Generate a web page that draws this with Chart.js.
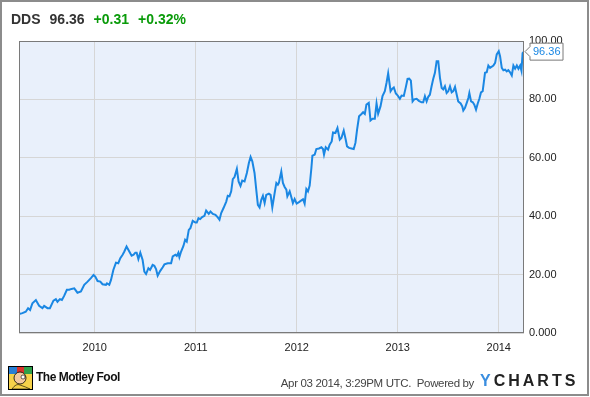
<!DOCTYPE html>
<html>
<head>
<meta charset="utf-8">
<script src="https://cdn.jsdelivr.net/npm/chart.js@4/dist/chart.umd.min.js"></script>
<style>
  html, body { margin: 0; padding: 0; background: #fff; }
  #wrap { position: relative; width: 590px; height: 397px; overflow: hidden; font-family: 'Liberation Sans', Arial, sans-serif; }
  #frame { position: absolute; left: 0; top: 0; width: 589px; height: 396px; box-sizing: border-box; border: 2px solid #8c8c8c; pointer-events: none; }
  canvas { position: absolute; left: 0; top: 0; }
  #title { position: absolute; left: 11px; top: 11px; font-size: 14px; font-weight: bold; color: #333; white-space: nowrap; }
  #title span { margin-right: 9px; }
  #title .up { color: #0a9b0a; }
  #fool { position: absolute; left: 8px; top: 366px; }
  #foolText { position: absolute; left: 36px; top: 370px; font-size: 12px; font-weight: bold; letter-spacing: -0.5px; color: #111; }
  #stamp { position: absolute; right: 116px; top: 377px; font-size: 11.5px; letter-spacing: -0.35px; color: #444; white-space: pre; }
  #ycharts { position: absolute; left: 480px; top: 372px; font-size: 16px; font-weight: bold; letter-spacing: 3px; color: #222; }
  #ycharts .y { color: #3a8ee0; }
</style>
</head>
<body>
<div id="wrap">
  <canvas id="chartCanvas" width="590" height="397"></canvas>
  <div id="title"><span>DDS</span><span>96.36</span><span class="up">+0.31</span><span class="up">+0.32%</span></div>
  <svg id="fool" width="25" height="24" viewBox="0 0 25 24">
    <rect x="0.5" y="0.5" width="24" height="23" fill="#f6d24a" stroke="#000"/>
    <rect x="1" y="1" width="8" height="7" fill="#2a7fd4"/>
    <rect x="9" y="1" width="7" height="6" fill="#d9322b"/>
    <rect x="16" y="1" width="8" height="7" fill="#2fa04a"/>
    <circle cx="12" cy="12" r="6" fill="#f3c9a0" stroke="#000" stroke-width="0.8"/>
    <circle cx="15" cy="11" r="2" fill="#fff" stroke="#000" stroke-width="0.6"/>
    <path d="M4 23 Q8 17 12 19 Q18 21 22 23 Z" fill="#f6d24a" stroke="#000" stroke-width="0.6"/>
  </svg>
  <div id="foolText">The Motley Fool</div>
  <div id="stamp">Apr 03 2014, 3:29PM UTC.  Powered by</div>
  <div id="ycharts"><span class="y">Y</span>CHARTS</div>
  <div id="frame"></div>
</div>
<script>
// DDS daily close, dates as decimal years
const dates = [
  2009.251, 2009.284, 2009.317, 2009.340, 2009.360, 2009.383, 2009.417, 2009.449, 2009.482, 2009.499,
  2009.532, 2009.556, 2009.591, 2009.615, 2009.631, 2009.655, 2009.675, 2009.697, 2009.724, 2009.747,
  2009.770, 2009.797, 2009.829, 2009.863, 2009.896, 2009.929, 2009.962, 2009.988, 2010.005, 2010.028,
  2010.055, 2010.077, 2010.111, 2010.121, 2010.144, 2010.161, 2010.184, 2010.210, 2010.233, 2010.253,
  2010.276, 2010.293, 2010.315, 2010.342, 2010.365, 2010.385, 2010.402, 2010.415, 2010.432, 2010.451,
  2010.474, 2010.491, 2010.508, 2010.531, 2010.548, 2010.573, 2010.590, 2010.607, 2010.623, 2010.647,
  2010.673, 2010.690, 2010.722, 2010.756, 2010.772, 2010.799, 2010.812, 2010.828, 2010.838, 2010.855,
  2010.878, 2010.895, 2010.911, 2010.931, 2010.947, 2010.970, 2010.997, 2011.010, 2011.027, 2011.044,
  2011.063, 2011.086, 2011.103, 2011.129, 2011.146, 2011.169, 2011.195, 2011.218, 2011.235, 2011.252,
  2011.275, 2011.302, 2011.317, 2011.334, 2011.351, 2011.367, 2011.384, 2011.407, 2011.424, 2011.443,
  2011.460, 2011.483, 2011.506, 2011.526, 2011.543, 2011.560, 2011.582, 2011.599, 2011.615, 2011.632,
  2011.649, 2011.665, 2011.682, 2011.698, 2011.724, 2011.741, 2011.758, 2011.781, 2011.798, 2011.813,
  2011.823, 2011.847, 2011.863, 2011.880, 2011.897, 2011.907, 2011.930, 2011.946, 2011.962, 2011.979,
  2011.999, 2012.022, 2012.046, 2012.062, 2012.078, 2012.095, 2012.111, 2012.128, 2012.145, 2012.155,
  2012.178, 2012.194, 2012.220, 2012.244, 2012.260, 2012.270, 2012.287, 2012.310, 2012.326, 2012.346,
  2012.359, 2012.383, 2012.403, 2012.426, 2012.442, 2012.465, 2012.485, 2012.498, 2012.518, 2012.542,
  2012.564, 2012.581, 2012.597, 2012.617, 2012.641, 2012.657, 2012.674, 2012.690, 2012.713, 2012.730,
  2012.750, 2012.773, 2012.790, 2012.806, 2012.829, 2012.849, 2012.872, 2012.889, 2012.905, 2012.929,
  2012.944, 2012.961, 2012.981, 2012.998, 2013.021, 2013.038, 2013.060, 2013.080, 2013.097, 2013.113,
  2013.130, 2013.147, 2013.163, 2013.187, 2013.209, 2013.236, 2013.252, 2013.269, 2013.286, 2013.302,
  2013.318, 2013.335, 2013.351, 2013.368, 2013.385, 2013.401, 2013.418, 2013.435, 2013.450, 2013.467,
  2013.484, 2013.500, 2013.517, 2013.534, 2013.550, 2013.567, 2013.584, 2013.599, 2013.623, 2013.639,
  2013.649, 2013.666, 2013.683, 2013.699, 2013.709, 2013.726, 2013.743, 2013.758, 2013.775, 2013.792,
  2013.808, 2013.824, 2013.841, 2013.864, 2013.881, 2013.897, 2013.914, 2013.931, 2013.947, 2013.964,
  2013.980, 2014.000, 2014.013, 2014.030, 2014.046, 2014.063, 2014.079, 2014.095, 2014.112, 2014.129,
  2014.145, 2014.162, 2014.179, 2014.195, 2014.212, 2014.225, 2014.236, 2014.250
];
const prices = [
  6.5, 6.8, 7.3, 8.5, 7.9, 10.2, 11.3, 9.3, 8.5, 9.3,
  8.5, 8.5, 11.1, 11.6, 10.7, 11.6, 11.3, 12.7, 14.8, 14.8,
  15.1, 15.3, 13.8, 14.2, 16.5, 17.6, 18.8, 19.9, 19.3, 17.8,
  17.6, 16.7, 16.5, 17.0, 16.5, 18.2, 21.6, 24.1, 23.9, 25.6,
  26.8, 27.9, 29.6, 27.9, 26.5, 26.8, 27.5, 27.5, 25.3, 27.5,
  25.0, 21.0, 20.2, 22.2, 21.6, 23.3, 23.0, 21.9, 19.6, 21.2,
  22.5, 23.5, 23.9, 23.9, 26.2, 26.8, 26.4, 27.5, 26.0, 27.9,
  29.8, 31.9, 31.3, 35.3, 35.9, 38.4, 37.8, 37.8, 39.3, 39.0,
  39.7, 40.1, 41.9, 40.8, 41.6, 40.8, 40.5, 39.6, 38.8, 41.1,
  42.8, 45.0, 47.0, 46.8, 48.5, 52.7, 53.4, 56.2, 51.9, 50.4,
  52.2, 51.9, 54.8, 58.2, 60.3, 58.8, 54.8, 49.1, 43.9, 43.0,
  45.6, 47.0, 44.5, 47.3, 47.7, 47.3, 43.0, 47.9, 51.4, 50.8,
  51.4, 55.3, 51.4, 50.0, 49.1, 46.8, 48.5, 46.6, 44.5, 45.9,
  44.3, 44.8, 45.4, 45.8, 44.3, 49.3, 48.5, 50.5, 56.5, 60.7,
  61.1, 63.0, 63.2, 63.6, 63.0, 61.1, 63.6, 62.8, 64.5, 65.6,
  68.7, 68.5, 70.2, 66.2, 66.8, 69.3, 66.2, 63.9, 63.4, 63.2,
  63.0, 65.1, 69.6, 74.2, 75.0, 75.6, 75.0, 78.2, 78.8, 72.8,
  73.4, 73.4, 78.6, 75.1, 77.6, 81.1, 82.8, 85.7, 88.9, 82.8,
  83.6, 84.1, 82.0, 81.4, 80.2, 81.3, 81.2, 84.2, 87.0, 87.1,
  86.4, 79.3, 80.0, 80.2, 79.5, 79.0, 79.0, 81.1, 79.3, 80.9,
  81.6, 84.5, 87.0, 89.1, 93.1, 93.1, 87.4, 83.9, 83.4, 84.5,
  82.2, 82.8, 84.5, 82.4, 82.8, 84.3, 81.6, 79.3, 78.6, 77.6,
  76.2, 77.1, 78.8, 80.5, 82.2, 79.3, 79.0, 78.2, 76.5, 78.6,
  80.2, 82.4, 82.8, 89.1, 89.3, 91.6, 90.8, 91.2, 91.6, 92.5,
  95.4, 96.5, 94.8, 90.8, 90.0, 90.2, 89.6, 90.0, 89.3, 88.2,
  91.6, 90.5, 91.6, 90.5, 91.6, 89.8, 95.8, 96.36
];
const xTickYears = [2010, 2011, 2012, 2013, 2014];
const yTickValues = [0, 20, 40, 60, 80, 100];
const yTickLabels = ['0.000', '20.00', '40.00', '60.00', '80.00', '100.00'];

const lineColor = '#1a87e3';

const plotBox = {
    id: 'plotBox',
    beforeDraw(chart) {
        const { ctx, chartArea: a } = chart;
        ctx.save();
        ctx.fillStyle = '#e9f0fb';
        ctx.fillRect(a.left, a.top, a.right - a.left, a.bottom - a.top);
        ctx.restore();
    },
    afterDraw(chart) {
        const { ctx, chartArea: a } = chart;
        ctx.save();
        ctx.strokeStyle = '#7a7a7a';
        ctx.lineWidth = 1;
        ctx.strokeRect(Math.round(a.left) + 0.5, Math.round(a.top) + 0.5,
            Math.round(a.right - a.left) - 1, Math.round(a.bottom - a.top) - 1);

        // last price callout on the right axis
        const last = prices[prices.length - 1];
        const y = chart.scales.y.getPixelForValue(last);
        const tip = a.right + 1;
        const left = tip + 5, right = left + 33, h = 17;
        ctx.beginPath();
        ctx.moveTo(tip, y);
        ctx.lineTo(left, y - 5);
        ctx.lineTo(left, y - h / 2);
        ctx.lineTo(right, y - h / 2);
        ctx.lineTo(right, y + h / 2);
        ctx.lineTo(left, y + h / 2);
        ctx.lineTo(left, y + 5);
        ctx.closePath();
        ctx.fillStyle = '#fff';
        ctx.fill();
        ctx.strokeStyle = '#7a7a7a';
        ctx.stroke();
        ctx.fillStyle = lineColor;
        ctx.font = '11px "Liberation Sans", Arial, sans-serif';
        ctx.textBaseline = 'middle';
        ctx.fillText(last.toFixed(2), left + 3, y + 0.5);
        ctx.restore();
    }
};

new Chart(document.getElementById('chartCanvas').getContext('2d'), {
    type: 'line',
    data: {
        datasets: [{
            data: dates.map((d, i) => ({ x: d, y: prices[i] })),
            borderColor: lineColor,
            borderWidth: 2,
            pointRadius: 0,
            tension: 0,
            fill: false
        }]
    },
    options: {
        responsive: false,
        animation: false,
        devicePixelRatio: 1,
        layout: { padding: { left: 19, top: 41, right: 0, bottom: 0 } },
        plugins: { legend: { display: false }, tooltip: { enabled: false } },
        scales: {
            x: {
                type: 'linear',
                min: 2009.25,
                max: 2014.25,
                afterBuildTicks: scale => { scale.ticks = xTickYears.map(v => ({ value: v })); },
                afterFit: scale => { scale.height = 64; },
                grid: { color: '#d6d6d6', drawTicks: false },
                border: { display: false },
                ticks: {
                    padding: 8,
                    color: '#222',
                    font: { family: '"Liberation Sans", Arial, sans-serif', size: 11 },
                    callback: v => String(v),
                    maxRotation: 0
                }
            },
            y: {
                position: 'right',
                min: 0,
                max: 100,
                afterBuildTicks: scale => { scale.ticks = yTickValues.map(v => ({ value: v })); },
                afterFit: scale => { scale.width = 66; },
                grid: { color: '#d6d6d6', drawTicks: false },
                border: { display: false },
                ticks: {
                    padding: 5,
                    color: '#222',
                    font: { family: '"Liberation Sans", Arial, sans-serif', size: 11 },
                    callback: v => yTickLabels[yTickValues.indexOf(v)]
                }
            }
        }
    },
    plugins: [plotBox]
});
</script>
</body>
</html>
